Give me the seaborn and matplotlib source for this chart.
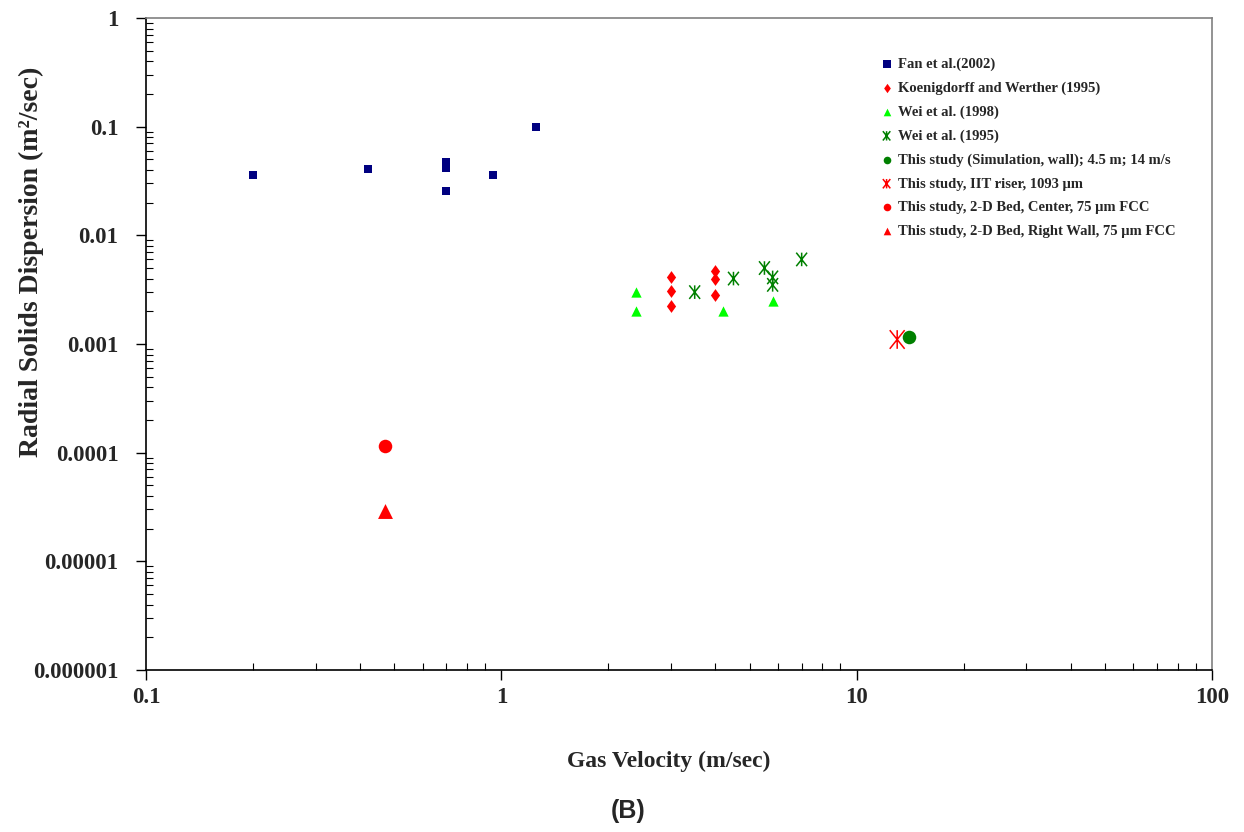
import numpy as np
import pandas as pd
import matplotlib
matplotlib.use("Agg")
import matplotlib.pyplot as plt
from matplotlib.path import Path
from matplotlib.ticker import LogLocator, FixedLocator, NullFormatter
import seaborn as sns

# data (gas velocity m/s, radial dispersion m2/s)
fan_x = [0.2, 0.42, 0.7, 0.7, 0.7, 0.95, 1.25]
fan_y = [0.036, 0.041, 0.047, 0.042, 0.0256, 0.036, 0.1]
koen_x = [3.0, 3.0, 3.0, 4.0, 4.0, 4.0]
koen_y = [0.0041, 0.0031, 0.00224, 0.0047, 0.0040, 0.0028]
wei98_x = [2.4, 2.4, 4.2, 5.8]
wei98_y = [0.003, 0.002, 0.002, 0.0025]
wei95_x = [3.5, 4.5, 5.5, 5.8, 5.8, 7.0]
wei95_y = [0.003, 0.004, 0.005, 0.0041, 0.0035, 0.006]
sim_x, sim_y = [14.0], [0.00115]
iit_x, iit_y = [13.0], [0.0011]
center_x, center_y = [0.47], [0.000116]
wall_x, wall_y = [0.47], [0.000029]

labels = [
    "Fan et al.(2002)",
    "Koenigdorff and Werther (1995)",
    "Wei et al. (1998)",
    "Wei et al. (1995)",
    "This study (Simulation, wall); 4.5 m; 14 m/s",
    "This study, IIT riser, 1093 µm",
    "This study, 2-D Bed, Center, 75 µm FCC",
    "This study, 2-D Bed, Right Wall, 75 µm FCC",
]
xs = [fan_x, koen_x, wei98_x, wei95_x, sim_x, iit_x, center_x, wall_x]
ys = [fan_y, koen_y, wei98_y, wei95_y, sim_y, iit_y, center_y, wall_y]

# asterisk: vertical bar plus an X
star = Path([(0, -1), (0, 1), (-0.8, -1), (0.8, 1), (-0.8, 1), (0.8, -1)],
            [Path.MOVETO, Path.LINETO, Path.MOVETO, Path.LINETO, Path.MOVETO, Path.LINETO])
# slightly narrow diamond
diamond = Path([(0, 1), (0.72, 0), (0, -1), (-0.72, 0), (0, 1)],
               [Path.MOVETO, Path.LINETO, Path.LINETO, Path.LINETO, Path.CLOSEPOLY])

styles = [
    dict(marker="s", color="#000080", s=30, leg=30),
    dict(marker=diamond, color="#FF0000", s=85, leg=45),
    dict(marker="^", color="#00FF00", s=55, leg=30),
    dict(marker=star, color="#008000", s=95, line=True, leg=45),
    dict(marker="o", color="#008000", s=95, leg=30),
    dict(marker=star, color="#FF0000", s=180, line=True, leg=45),
    dict(marker="o", color="#FF0000", s=95, leg=30),
    dict(marker="^", color="#FF0000", s=115, leg=30),
]

sns.set_style("ticks")
plt.rcParams["font.family"] = ["Liberation Serif", "DejaVu Serif"]
plt.rcParams["font.weight"] = "bold"

fig = plt.figure(figsize=(12.44, 8.32), dpi=100)
ax = fig.add_axes([0.1174, 0.1947, 0.8569, 0.7837])

for lab, x, y, st in zip(labels, xs, ys, styles):
    df = pd.DataFrame({"vel": x, "disp": y})
    if st.get("line"):
        sns.scatterplot(data=df, x="vel", y="disp", ax=ax, marker=st["marker"],
                        s=st["s"], color=st["color"], facecolor="none",
                        edgecolor=st["color"], linewidth=1.1, label=lab, zorder=3)
    else:
        sns.scatterplot(data=df, x="vel", y="disp", ax=ax, marker=st["marker"],
                        s=st["s"], color=st["color"], edgecolor=st["color"],
                        linewidth=0, label=lab, zorder=3)

ax.set_xscale("log")
ax.set_yscale("log")
ax.set_xlim(0.1, 100)
ax.set_ylim(1e-6, 1)

ax.xaxis.set_major_locator(FixedLocator([0.1, 1, 10, 100]))
ax.set_xticklabels(["0.1", "1", "10", "100"])
ax.yaxis.set_major_locator(FixedLocator([1e-6, 1e-5, 1e-4, 1e-3, 1e-2, 1e-1, 1]))
ax.set_yticklabels(["0.000001", "0.00001", "0.0001", "0.001", "0.01", "0.1", "1"])
ax.xaxis.set_minor_locator(LogLocator(base=10, subs=np.arange(2, 10), numticks=20))
ax.yaxis.set_minor_locator(LogLocator(base=10, subs=np.arange(2, 10), numticks=20))
ax.xaxis.set_minor_formatter(NullFormatter())
ax.yaxis.set_minor_formatter(NullFormatter())

ax.tick_params(axis="both", which="major", direction="out", length=7, width=1,
               color="black", labelsize=16.5)
ax.tick_params(axis="both", which="minor", direction="in", length=5, width=0.8,
               color="black")
ax.tick_params(axis="x", which="major", pad=5)
ax.tick_params(axis="y", which="major", pad=13)
for lbl in ax.get_xticklabels() + ax.get_yticklabels():
    lbl.set_fontweight("bold")

for side in ["left", "bottom"]:
    ax.spines[side].set_color("black")
    ax.spines[side].set_linewidth(1.2)
for side in ["top", "right"]:
    ax.spines[side].set_visible(True)
    ax.spines[side].set_color("#808080")
    ax.spines[side].set_linewidth(1.2)

ax.set_xlabel("Gas Velocity (m/sec)", fontsize=17, fontweight="bold")
ax.set_ylabel("Radial Solids Dispersion (m²/sec)", fontsize=20, fontweight="bold")
ax.xaxis.set_label_coords(0.49, -0.124)
ax.yaxis.set_label_coords(-0.096, 0.626)

leg = ax.legend(loc="upper left", bbox_to_anchor=(0.708, 0.931),
                bbox_transform=fig.transFigure, frameon=False, fontsize=10.5,
                labelspacing=0.72, handlelength=0.8, handletextpad=0.4,
                borderpad=0, borderaxespad=0, scatterpoints=1)
for h, st in zip(leg.legend_handles, styles):
    h.set_sizes([st["leg"]])
for t in leg.get_texts():
    t.set_fontweight("bold")

fig.text(628 / 1244, 1 - 811 / 832, "(B)", ha="center", va="center",
         fontsize=18, fontweight="bold", family=["Liberation Sans", "DejaVu Sans"])

fig.savefig("out.png", dpi=100)
